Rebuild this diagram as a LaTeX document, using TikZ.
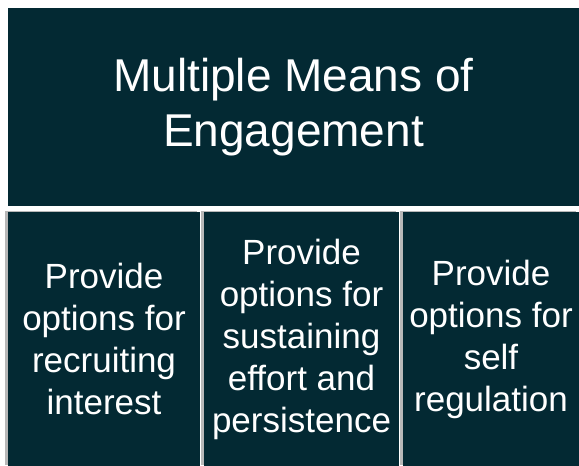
\documentclass[tikz,border=0pt]{standalone}
\usepackage{fontspec}
\setmainfont{Liberation Sans}
\usetikzlibrary{positioning,shadows}
\definecolor{udlteal}{RGB}{3,41,51}

\begin{document}
\begin{tikzpicture}[x=1pt,y=-1pt,
mainbox/.style={fill=udlteal,text=white,inner sep=0pt,outer sep=0pt,align=center},
titlebox/.style={mainbox,minimum width=571pt,minimum height=198pt,font=\fontsize{46}{55}\selectfont},
optbox/.style={mainbox,minimum height=254pt,font=\fontsize{35}{42}\selectfont,
  general shadow={fill=black!28,shadow xshift=-3pt,shadow yshift=1pt}}]
\useasboundingbox[fill=white] (0,0) rectangle (579,466);
\node[titlebox](mme) at (293.5,107) {Multiple Means of\\Engagement};
\node[optbox,minimum width=192pt,anchor=north west](recruit) at ([yshift=-6pt]mme.south west) {Provide\\options for\\recruiting\\interest};
\node[optbox,minimum width=195pt,right=4pt of recruit](sustain) {Provide\\options for\\sustaining\\effort and\\persistence};
\node[optbox,minimum width=176pt,right=4pt of sustain](selfreg) {Provide\\options for\\self\\regulation};
\end{tikzpicture}
\end{document}
